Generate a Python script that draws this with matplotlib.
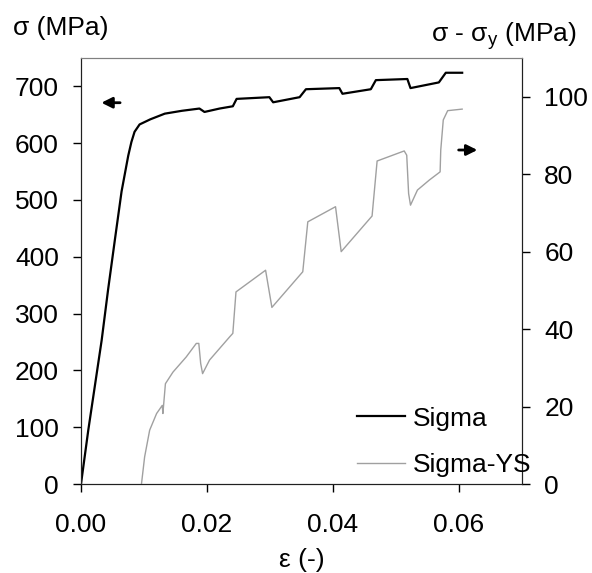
import matplotlib
matplotlib.use("Agg")
import matplotlib.pyplot as plt

plt.rcParams['font.family'] = ['Liberation Sans', 'DejaVu Sans']

# Sigma (left axis)
eps_sigma = [0.0, 0.00116, 0.00328, 0.0043, 0.00538, 0.00644, 0.0075, 0.0080, 0.0085,
             0.0093, 0.0110, 0.0133, 0.0160, 0.0188, 0.0196, 0.0220, 0.0241, 0.0247,
             0.0299, 0.0305, 0.0347, 0.0357, 0.0410, 0.0415, 0.0460, 0.0468, 0.0518,
             0.0523, 0.0568, 0.0579, 0.0605]
sigma = [0, 95, 253, 342, 430, 515, 578, 602, 620,
         633, 642, 652, 657, 661, 655, 661, 665, 678,
         681, 672, 681, 695, 697, 687, 695, 711, 713,
         697, 707, 724, 724]

# Sigma - YS (right axis)
eps_ys = [0.0096, 0.0101, 0.0109, 0.0120, 0.0129, 0.0130, 0.0134, 0.0146, 0.0167,
          0.0183, 0.0187, 0.0190, 0.0193, 0.0204, 0.0236, 0.0241, 0.0246, 0.0293,
          0.0303, 0.0352, 0.0360, 0.0404, 0.0413, 0.0462, 0.0470, 0.0513, 0.0517,
          0.0520, 0.0523, 0.0534, 0.0553, 0.0570, 0.0571, 0.0575, 0.0582, 0.0605]
sigma_ys = [0, 7, 13.9, 18.2, 20.3, 18.2, 25.9, 28.9, 32.8,
            36.3, 36.3, 31.1, 28.5, 32.0, 38.0, 38.9, 49.6, 55.2,
            45.6, 54.8, 67.7, 71.6, 60.0, 69.2, 83.4, 86.0, 84.9,
            75.0, 72.0, 75.9, 78.5, 80.6, 86.2, 94.0, 96.4, 96.8]

fs = 19

fig = plt.figure(figsize=(5.92, 5.73), dpi=100)
ax = fig.add_axes([0.1368, 0.1553, 0.745, 0.7435])
ax2 = ax.twinx()

l1, = ax.plot(eps_sigma, sigma, color='black', lw=1.6, label='Sigma')
l2, = ax2.plot(eps_ys, sigma_ys, color='#a0a0a0', lw=1.0, label='Sigma-YS')

ax.set_xlim(0, 0.07)
ax.set_ylim(0, 750)
ax2.set_ylim(0, 110)
ax.set_xticks([0.0, 0.02, 0.04, 0.06])
ax.set_xticklabels(['0.00', '0.02', '0.04', '0.06'])
ax.set_yticks(range(0, 701, 100))
ax2.set_yticks(range(0, 101, 20))

ax.tick_params(axis='both', labelsize=fs, length=6, width=1, direction='out')
ax.tick_params(axis='y', pad=10)
ax.tick_params(axis='x', pad=15)
ax2.tick_params(axis='y', labelsize=fs, length=6, width=1, direction='out', pad=10)

for a in (ax, ax2):
    a.spines['top'].set_color('#808080')
    a.spines['left'].set_color('#202020')
    a.spines['right'].set_color('#202020')
    a.spines['bottom'].set_color('#202020')

ax.set_xlabel('ε (-)', fontsize=fs, labelpad=8)
fig.text(0.022, 0.951, 'σ (MPa)', fontsize=fs, ha='left', va='center')
fig.text(0.975, 0.937, 'σ - σ$_\\mathregular{y}$ (MPa)', fontsize=fs, ha='right', va='center')

# direction arrows
ax.annotate('', xy=(0.040, 0.895), xytext=(0.095, 0.895), xycoords='axes fraction',
            arrowprops=dict(arrowstyle='-|>', color='black', lw=2, mutation_scale=16))
ax.annotate('', xy=(0.905, 0.784), xytext=(0.850, 0.784), xycoords='axes fraction',
            arrowprops=dict(arrowstyle='-|>', color='black', lw=2, mutation_scale=16))

ax2.legend(handles=[l1, l2], loc='lower left', bbox_to_anchor=(0.626, 0.016),
           frameon=False, fontsize=fs, handlelength=1.82, handletextpad=0.3,
           labelspacing=0.86, borderpad=0, borderaxespad=0)

plt.savefig('out.png', dpi=100)
